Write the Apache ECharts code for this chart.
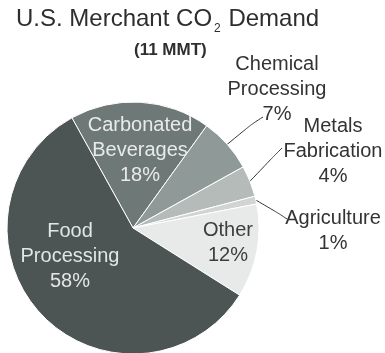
<!DOCTYPE html>
<html>
<head>
<meta charset="utf-8">
<script src="https://cdn.jsdelivr.net/npm/echarts@6/dist/echarts.min.js"></script>
<style>
  html, body { margin: 0; padding: 0; background: #fff; }
  #chart { width: 385px; height: 353px; }
</style>
</head>
<body>
<div id="chart"></div>
<script>
// Merchant CO2 demand by end use, percent of 11 MMT
const categories = ['Carbonated Beverages', 'Chemical Processing', 'Metals Fabrication', 'Agriculture', 'Other', 'Food Processing'];
const shares = [18, 7, 4, 1, 12, 58];
const sliceColors = ['#6e7876', '#8f9997', '#b4bbb9', '#d0d5d3', '#e8eae9', '#4c5553'];
const labelColors = ['#e8ebea', '#333333', '#333333', '#333333', '#3a3f3d', '#e2e6e4'];
const outside = [false, true, true, true, false, false];

// label anchor positions (px) and leader-line paths for the outer labels
const labelAnchors = [[140, 150], [277, 89], [333, 151], [333, 231], [228, 243], [70, 256]];
const leaderPaths = [null, [[252, 124], [263, 117]], [[274, 156], [282, 148]], [[278, 213], [287, 219]], null, null];

const FONT = '"Liberation Sans", Arial, Helvetica, sans-serif';

const chart = echarts.init(document.getElementById('chart'), null, { renderer: 'canvas' });

const data = categories.map((name, i) => ({
  name: name,
  value: shares[i],
  itemStyle: { color: sliceColors[i] },
  label: {
    position: outside[i] ? 'outside' : 'inside',
    color: labelColors[i]
  },
  labelLine: { show: outside[i] }
}));

chart.setOption({
  animation: false,
  title: [
    {
      text: '{a|U.S. Merchant CO}{s|2}{a| Demand}',
      left: 16,
      top: 7,
      padding: 0,
      textStyle: {
        fontWeight: 'normal',
        rich: {
          a: { fontFamily: FONT, fontSize: 24, fontWeight: 'normal', lineHeight: 27, color: '#2e2e2e', verticalAlign: 'top' },
          s: { fontFamily: FONT, fontSize: 12, fontWeight: 'normal', lineHeight: 12, color: '#2e2e2e', verticalAlign: 'top', padding: [16, 1, 0, 2] }
        }
      }
    },
    {
      text: '(11 MMT)',
      left: 134,
      top: 41,
      padding: 0,
      textStyle: { fontFamily: FONT, fontSize: 17, lineHeight: 18, fontWeight: 'bold', color: '#2e2e2e' }
    }
  ],
  series: [{
    type: 'pie',
    center: [133, 228],
    radius: 126,
    startAngle: 119,
    clockwise: true,
    data: data,
    itemStyle: { borderColor: '#ffffff', borderWidth: 1 },
    label: {
      fontFamily: FONT,
      fontSize: 20,
      lineHeight: 25,
      align: 'center',
      overflow: 'none',
      formatter: p => p.name.split(' ').join('\n') + '\n' + p.value + '%'
    },
    labelLine: {
      lineStyle: { color: '#333333', width: 1 },
      smooth: 0.3
    },
    labelLayout: function (params) {
      const i = params.dataIndex;
      const out = {
        x: labelAnchors[i][0],
        y: labelAnchors[i][1],
        align: 'center',
        verticalAlign: 'middle'
      };
      if (leaderPaths[i] && params.labelLinePoints) {
        out.labelLinePoints = [params.labelLinePoints[0]].concat(leaderPaths[i]);
      }
      return out;
    }
  }]
});
</script>
</body>
</html>
